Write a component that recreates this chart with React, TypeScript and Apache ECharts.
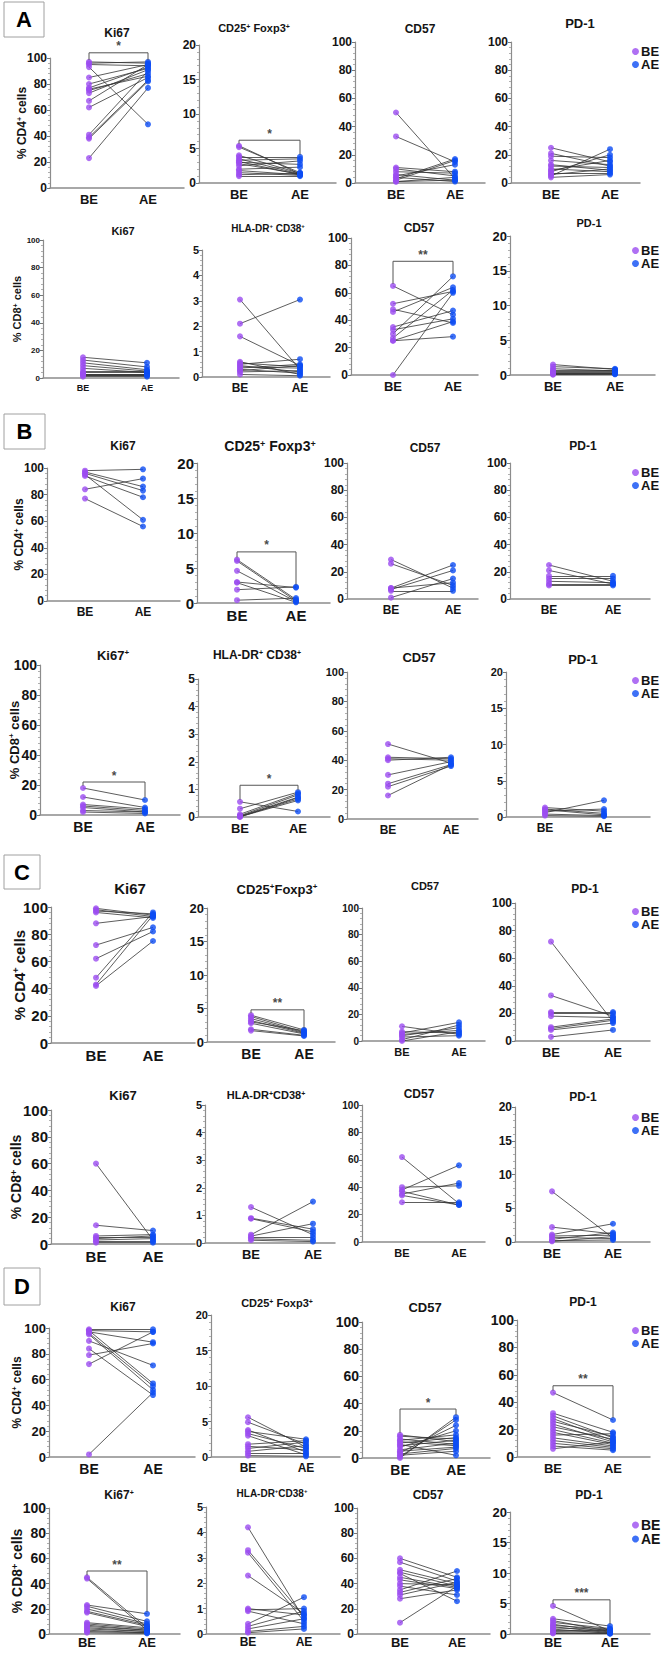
import React, { useEffect, useRef } from "react";
import * as echarts from "echarts";

// Percent of parent population before (BE) and after (AE) exercise; index i is the same subject.
// Panel A
const A_CD4_KI67_BE = [97, 96, 95, 93, 85, 80, 77, 76, 75, 73, 67, 62, 41, 39, 38, 23];
const A_CD4_KI67_AE = [96, 97, 94, 49, 95, 92, 93, 86, 88, 91, 95, 85, 90, 83, 82, 77];
const A_CD4_TREG_BE = [5.4, 5.2, 4.0, 3.8, 3.5, 3.3, 3.1, 3.0, 2.8, 2.5, 2.0, 1.8, 1.5, 1.2, 1.0];
const A_CD4_TREG_AE = [1.3, 1.5, 1.4, 3.8, 1.3, 3.5, 1.2, 2.7, 1.3, 3.2, 2.3, 1.2, 1.1, 1.4, 1.0];
const A_CD4_CD57_BE = [50, 33, 11, 10, 8, 6, 5, 4, 3, 2, 1, 1];
const A_CD4_CD57_AE = [3, 15, 8, 5, 7, 2, 13, 1, 17, 16, 4, 2];
const A_CD4_PD1_BE = [25, 21, 19, 16, 13, 12, 10, 9, 8, 7, 6, 5, 4];
const A_CD4_PD1_AE = [15, 12, 18, 13, 9, 11, 8, 16, 20, 7, 10, 24, 6];
const A_CD8_KI67_BE = [15, 13, 11, 9, 7, 5, 4, 3, 3, 2, 2, 1];
const A_CD8_KI67_AE = [11, 8, 6, 5, 4, 5, 4, 3, 3, 2, 2, 1];
const A_CD8_HLA_BE = [3.05, 2.1, 1.6, 0.6, 0.55, 0.5, 0.45, 0.4, 0.35, 0.3, 0.25, 0.2, 0.1];
const A_CD8_HLA_AE = [0.3, 3.05, 0.45, 0.1, 0.4, 0.7, 0.2, 0.35, 0.5, 0.15, 0.45, 0.25, 0.05];
const A_CD8_CD57_BE = [65, 52, 48, 46, 35, 33, 30, 27, 25, 25, 0];
const A_CD8_CD57_AE = [44, 61, 38, 64, 47, 41, 72, 62, 39, 28, 60];
const A_CD8_PD1_BE = [1.5, 1.2, 0.9, 0.7, 0.5, 0.4, 0.3, 0.2, 0.1, 0.05];
const A_CD8_PD1_AE = [0.8, 0.9, 0.6, 0.7, 0.5, 0.4, 0.3, 0.2, 0.15, 0.1];
// Panel B
const B_CD4_KI67_BE = [98, 97, 96, 95, 94, 84, 77];
const B_CD4_KI67_AE = [99, 86, 83, 61, 78, 92, 56];
const B_CD4_TREG_BE = [6.2, 6.0, 4.6, 3.0, 2.9, 1.9, 0.4];
const B_CD4_TREG_AE = [0.5, 0.3, 0.2, 2.2, 0.1, 2.3, 0.7];
const B_CD4_CD57_BE = [29, 26, 8, 8, 7, 6, 1];
const B_CD4_CD57_AE = [8, 10, 25, 12, 21, 6, 15];
const B_CD4_PD1_BE = [25, 21, 17, 15, 13, 11, 10];
const B_CD4_PD1_AE = [13, 11, 17, 15, 12, 11, 10];
const B_CD8_KI67_BE = [18, 12, 7, 6, 5, 3, 2];
const B_CD8_KI67_AE = [10, 5, 4, 3, 2, 2, 1];
const B_CD8_HLA_BE = [0.55, 0.3, 0.1, 0.05, 0.03, 0.02, 0.01, 0.0];
const B_CD8_HLA_AE = [0.2, 0.9, 0.85, 0.8, 0.72, 0.65, 0.6, 0.7];
const B_CD8_CD57_BE = [51, 42, 41, 40, 30, 24, 22, 16];
const B_CD8_CD57_AE = [38, 41, 40, 42, 39, 37, 36, 37];
const B_CD8_PD1_BE = [1.3, 1.1, 1.0, 0.8, 0.6, 0.4, 0.2];
const B_CD8_PD1_AE = [0.8, 0.5, 0.3, 1.1, 2.3, 0.2, 0.1];
// Panel C
const C_CD4_KI67_BE = [99, 98, 97, 96, 88, 72, 62, 48, 43, 42];
const C_CD4_KI67_AE = [94, 93, 95, 92, 93, 85, 82, 96, 94, 75];
const C_CD4_TREG_BE = [4.0, 3.8, 3.5, 3.2, 3.0, 2.8, 1.9, 1.7];
const C_CD4_TREG_AE = [1.8, 1.5, 1.4, 1.3, 1.7, 1.2, 1.0, 0.9];
const C_CD4_CD57_BE = [11, 7, 6, 5, 4, 3, 1, 0];
const C_CD4_CD57_AE = [5, 6, 14, 8, 10, 4, 12, 7];
const C_CD4_PD1_BE = [72, 33, 21, 20, 18, 10, 9, 8, 3];
const C_CD4_PD1_AE = [14, 18, 21, 20, 17, 16, 15, 13, 8];
const C_CD8_KI67_BE = [60, 14, 6, 5, 4, 3, 2, 1];
const C_CD8_KI67_AE = [3, 10, 7, 5, 6, 4, 2, 1];
const C_CD8_HLA_BE = [1.3, 0.9, 0.88, 0.3, 0.25, 0.2, 0.15, 0.1];
const C_CD8_HLA_AE = [0.3, 0.5, 0.4, 1.5, 0.7, 0.2, 0.1, 0.05];
const C_CD8_CD57_BE = [62, 40, 38, 37, 35, 34, 29];
const C_CD8_CD57_AE = [28, 41, 56, 27, 43, 27, 29];
const C_CD8_PD1_BE = [7.5, 2.2, 1.1, 0.9, 0.7, 0.4, 0.2, 0.1];
const C_CD8_PD1_AE = [0.6, 1.2, 2.7, 1.0, 0.5, 1.4, 0.3, 0.8];
// Panel D
const D_CD4_KI67_BE = [99, 98, 98, 97, 96, 95, 90, 84, 79, 72, 2];
const D_CD4_KI67_AE = [99, 97, 57, 89, 55, 52, 71, 48, 88, 97, 50];
const D_CD4_TREG_BE = [5.6, 4.9, 3.8, 3.6, 3.3, 3.0, 1.8, 1.5, 1.2, 0.8, 0.5, 0.2];
const D_CD4_TREG_AE = [1.4, 1.8, 0.7, 2.5, 1.2, 0.3, 2.3, 1.0, 2.1, 1.6, 0.5, 0.1];
const D_CD4_CD57_BE = [17, 16, 14, 13, 12, 11, 10, 9, 8, 6, 5, 4, 3, 2, 1, 0];
const D_CD4_CD57_AE = [12, 14, 10, 17, 9, 15, 2, 13, 20, 11, 8, 24, 7, 5, 28, 30];
const D_CD4_PD1_BE = [47, 32, 30, 28, 26, 24, 22, 20, 18, 16, 14, 12, 10, 8, 6];
const D_CD4_PD1_AE = [27, 18, 14, 12, 15, 11, 13, 10, 9, 17, 8, 7, 6, 5, 11];
const D_CD8_KI67_BE = [45, 44, 23, 22, 20, 18, 17, 9, 8, 7, 6, 5, 4, 3, 2, 1];
const D_CD8_KI67_AE = [5, 3, 16, 10, 8, 7, 6, 5, 4, 3, 3, 2, 2, 1, 1, 0.5];
const D_CD8_HLA_BE = [4.2, 3.3, 3.2, 2.3, 1.0, 0.95, 0.9, 0.4, 0.3, 0.2, 0.1, 0.05];
const D_CD8_HLA_AE = [0.6, 0.7, 0.5, 0.8, 0.75, 1.0, 0.4, 1.45, 0.9, 0.6, 0.3, 0.2];
const D_CD8_CD57_BE = [60, 57, 51, 49, 48, 45, 43, 40, 38, 35, 33, 31, 28, 9];
const D_CD8_CD57_AE = [45, 42, 40, 38, 26, 37, 36, 39, 31, 50, 44, 41, 35, 38];
const D_CD8_PD1_BE = [4.6, 2.5, 2.2, 1.9, 1.6, 1.4, 1.2, 1.0, 0.8, 0.6, 0.4, 0.2, 0.1];
const D_CD8_PD1_AE = [0.5, 1.3, 0.4, 0.9, 0.3, 0.8, 0.2, 0.7, 0.1, 0.6, 0.3, 0.1, 0.05];

// Group labels on the x axis and the legend
const GROUPS = ["BE", "AE"];

const PURPLE = "#9b4cf0";
const BLUE = "#0c4cf4";
const INK = "#141414";
const FONT = '"Liberation Sans", Arial, Helvetica, sans-serif';

type Plot = {
  title: string;
  be: number[];
  ae: number[];
  yMax: number;
  step: number;
  sig?: number;
  stars?: string;
};

const T_KI67 = "Ki67";
const T_KI67P = "Ki67{s|+}";
const T_CD57 = "CD57";
const T_PD1 = "PD-1";

// [axisX, topY, zeroY, beX, aeX, rightX, titleX, titleY, tickFont, titleFont, groupFont]
type Layout = number[];

type Row = {
  yName: string;
  nameX: number;
  nameFs: number;
  legendTop: number;
  legendFs: number;
  groupMargin: number;
  plots: Plot[];
  layout: Layout[];
};

const ROWS: Row[] = [
  {
    yName: "% CD4{s|+} cells", nameX: 22, nameFs: 12, legendTop: 45, legendFs: 13, groupMargin: 5,
    plots: [
      { title: T_KI67, be: A_CD4_KI67_BE, ae: A_CD4_KI67_AE, yMax: 100, step: 20, sig: 104, stars: "*" },
      { title: "CD25{s|+} Foxp3{s|+}", be: A_CD4_TREG_BE, ae: A_CD4_TREG_AE, yMax: 20, step: 5, sig: 6.2, stars: "*" },
      { title: T_CD57, be: A_CD4_CD57_BE, ae: A_CD4_CD57_AE, yMax: 100, step: 20 },
      { title: T_PD1, be: A_CD4_PD1_BE, ae: A_CD4_PD1_AE, yMax: 100, step: 20 },
    ],
    layout: [
      [50, 58, 188, 89, 148, 184, 117, 33, 12, 12, 13],
      [199, 45, 183, 239, 300, 336, 254, 28, 12, 11, 13],
      [355, 42, 183, 396, 455, 485, 420, 29, 12, 12, 13],
      [511, 42, 183, 551, 610, 640, 580, 23, 12, 13, 13],
    ],
  },
  {
    yName: "% CD8{s|+} cells", nameX: 17, nameFs: 11, legendTop: 244, legendFs: 13, groupMargin: 5,
    plots: [
      { title: T_KI67, be: A_CD8_KI67_BE, ae: A_CD8_KI67_AE, yMax: 100, step: 20 },
      { title: "HLA-DR{s|+} CD38{s|+}", be: A_CD8_HLA_BE, ae: A_CD8_HLA_AE, yMax: 5, step: 1 },
      { title: T_CD57, be: A_CD8_CD57_BE, ae: A_CD8_CD57_AE, yMax: 100, step: 20, sig: 83, stars: "**" },
      { title: T_PD1, be: A_CD8_PD1_BE, ae: A_CD8_PD1_AE, yMax: 20, step: 5 },
    ],
    layout: [
      [43, 240, 378, 83, 147, 179, 123, 231, 8, 11, 9],
      [202, 250, 377, 240, 300, 330, 268, 228, 11, 10, 12],
      [351, 238, 375, 393, 453, 478, 419, 228, 12, 12, 13],
      [510, 236, 375, 553, 615, 655, 589, 223, 13, 11, 13],
    ],
  },
  {
    yName: "% CD4{s|+} cells", nameX: 19, nameFs: 12, legendTop: 466, legendFs: 13, groupMargin: 5,
    plots: [
      { title: T_KI67, be: B_CD4_KI67_BE, ae: B_CD4_KI67_AE, yMax: 100, step: 20 },
      { title: "CD25{s|+} Foxp3{s|+}", be: B_CD4_TREG_BE, ae: B_CD4_TREG_AE, yMax: 20, step: 5, sig: 7.3, stars: "*" },
      { title: T_CD57, be: B_CD4_CD57_BE, ae: B_CD4_CD57_AE, yMax: 100, step: 20 },
      { title: T_PD1, be: B_CD4_PD1_BE, ae: B_CD4_PD1_AE, yMax: 100, step: 20 },
    ],
    layout: [
      [47, 468, 601, 85, 143, 180, 123, 446, 12, 12, 12],
      [197, 463, 603, 237, 296, 330, 270, 446, 15, 14, 15],
      [347, 463, 599, 391, 453, 478, 425, 448, 12, 12, 12],
      [510, 463, 599, 549, 613, 650, 583, 446, 12, 12, 12],
    ],
  },
  {
    yName: "% CD8{s|+} cells", nameX: 14, nameFs: 13, legendTop: 674, legendFs: 13, groupMargin: 5,
    plots: [
      { title: T_KI67P, be: B_CD8_KI67_BE, ae: B_CD8_KI67_AE, yMax: 100, step: 20, sig: 22, stars: "*" },
      { title: "HLA-DR{s|+} CD38{s|+}", be: B_CD8_HLA_BE, ae: B_CD8_HLA_AE, yMax: 5, step: 1, sig: 1.15, stars: "*" },
      { title: T_CD57, be: B_CD8_CD57_BE, ae: B_CD8_CD57_AE, yMax: 100, step: 20 },
      { title: T_PD1, be: B_CD8_PD1_BE, ae: B_CD8_PD1_AE, yMax: 20, step: 5 },
    ],
    layout: [
      [40, 665, 815, 83, 145, 180, 113, 655, 14, 13, 14],
      [198, 679, 817, 240, 298, 330, 257, 655, 12, 12, 13],
      [347, 672, 819, 388, 451, 478, 419, 657, 11, 13, 12],
      [506, 672, 817, 545, 604, 650, 583, 659, 11, 13, 12],
    ],
  },
  {
    yName: "% CD4{s|+} cells", nameX: 19, nameFs: 15, legendTop: 905, legendFs: 13, groupMargin: 5,
    plots: [
      { title: T_KI67, be: C_CD4_KI67_BE, ae: C_CD4_KI67_AE, yMax: 100, step: 20 },
      { title: "CD25{s|+}Foxp3{s|+}", be: C_CD4_TREG_BE, ae: C_CD4_TREG_AE, yMax: 20, step: 5, sig: 4.8, stars: "**" },
      { title: T_CD57, be: C_CD4_CD57_BE, ae: C_CD4_CD57_AE, yMax: 100, step: 20 },
      { title: T_PD1, be: C_CD4_PD1_BE, ae: C_CD4_PD1_AE, yMax: 100, step: 20 },
    ],
    layout: [
      [51, 907, 1043, 96, 153, 195, 130, 888, 15, 15, 15],
      [207, 908, 1042, 251, 304, 335, 277, 889, 13, 13, 14],
      [362, 908, 1041, 402, 459, 485, 425, 886, 10, 11, 11],
      [515, 903, 1041, 551, 613, 650, 585, 889, 12, 12, 13],
    ],
  },
  {
    yName: "% CD8{s|+} cells", nameX: 16, nameFs: 14, legendTop: 1111, legendFs: 13, groupMargin: 5,
    plots: [
      { title: T_KI67, be: C_CD8_KI67_BE, ae: C_CD8_KI67_AE, yMax: 100, step: 20 },
      { title: "HLA-DR{s|+}CD38{s|+}", be: C_CD8_HLA_BE, ae: C_CD8_HLA_AE, yMax: 5, step: 1 },
      { title: T_CD57, be: C_CD8_CD57_BE, ae: C_CD8_CD57_AE, yMax: 100, step: 20 },
      { title: T_PD1, be: C_CD8_PD1_BE, ae: C_CD8_PD1_AE, yMax: 20, step: 5 },
    ],
    layout: [
      [51, 1110, 1244, 96, 153, 195, 123, 1095, 15, 13, 15],
      [205, 1105, 1243, 251, 313, 335, 266, 1095, 11, 11, 13],
      [362, 1105, 1242, 402, 459, 485, 419, 1094, 10, 12, 11],
      [515, 1107, 1242, 552, 613, 650, 583, 1097, 12, 12, 13],
    ],
  },
  {
    yName: "% CD4{s|+} cells", nameX: 17, nameFs: 12, legendTop: 1324, legendFs: 13, groupMargin: 5,
    plots: [
      { title: T_KI67, be: D_CD4_KI67_BE, ae: D_CD4_KI67_AE, yMax: 100, step: 20 },
      { title: "CD25{s|+} Foxp3{s|+}", be: D_CD4_TREG_BE, ae: D_CD4_TREG_AE, yMax: 20, step: 5 },
      { title: T_CD57, be: D_CD4_CD57_BE, ae: D_CD4_CD57_AE, yMax: 100, step: 20, sig: 36, stars: "*" },
      { title: T_PD1, be: D_CD4_PD1_BE, ae: D_CD4_PD1_AE, yMax: 100, step: 20, sig: 52, stars: "**" },
    ],
    layout: [
      [49, 1328, 1457, 89, 153, 195, 123, 1307, 13, 12, 14],
      [211, 1315, 1457, 248, 306, 340, 277, 1303, 11, 11, 12],
      [362, 1322, 1458, 400, 456, 490, 425, 1307, 14, 13, 14],
      [517, 1320, 1457, 553, 613, 650, 583, 1302, 14, 12, 13],
    ],
  },
  {
    yName: "% CD8{s|+} cells", nameX: 17, nameFs: 14, legendTop: 1518, legendFs: 14, groupMargin: 2,
    plots: [
      { title: T_KI67P, be: D_CD8_KI67_BE, ae: D_CD8_KI67_AE, yMax: 100, step: 20, sig: 50, stars: "**" },
      { title: "HLA-DR{s|+}CD38{s|+}", be: D_CD8_HLA_BE, ae: D_CD8_HLA_AE, yMax: 5, step: 1 },
      { title: T_CD57, be: D_CD8_CD57_BE, ae: D_CD8_CD57_AE, yMax: 100, step: 20 },
      { title: T_PD1, be: D_CD8_PD1_BE, ae: D_CD8_PD1_AE, yMax: 20, step: 5, sig: 5.6, stars: "***" },
    ],
    layout: [
      [49, 1508, 1634, 87, 147, 180, 119, 1495, 14, 12, 13],
      [206, 1507, 1634, 248, 304, 340, 272, 1493, 11, 10, 12],
      [357, 1508, 1634, 400, 457, 490, 428, 1495, 12, 12, 13],
      [510, 1512, 1634, 553, 610, 650, 589, 1495, 13, 12, 13],
    ],
  },
];

// Panel letters: [letter, x, y, width, height]
const PANEL_BOXES: [string, number, number, number, number][] = [
  ["A", 4, 2, 40, 35],
  ["B", 4, 414, 41, 35],
  ["C", 4, 855, 36, 34],
  ["D", 4, 1268, 36, 37],
];

function supRich(fs: number) {
  return {
    s: { fontSize: Math.round(fs * 0.62), fontWeight: "bold", fontFamily: FONT, fill: INK, color: INK, verticalAlign: "top" },
  };
}

function buildOption() {
  const grid: any[] = [];
  const xAxis: any[] = [];
  const yAxis: any[] = [];
  const series: any[] = [];
  const legend: any[] = [];
  const graphic: any[] = [];

  ROWS.forEach((row) => {
    row.plots.forEach((p, ci) => {
      const [ax, top, zero, bx, aex, right, tx, ty, fs, tfs, xfs] = row.layout[ci];
      const idx = grid.length;
      const unit = aex - bx;
      const xMin = 1 - (bx - ax) / unit;
      const xMax = 2 + (right - aex) / unit;

      grid.push({ left: ax, top, width: right - ax, height: zero - top, outerBoundsMode: "none" });

      xAxis.push({
        type: "value",
        gridIndex: idx,
        min: xMin,
        max: xMax,
        axisLine: { show: true, onZero: false, lineStyle: { color: "#8c8c8c", width: 1.5 } },
        axisTick: { show: false },
        splitLine: { show: false },
        axisLabel: {
          customValues: [1, 2],
          formatter: (v: number) => (Math.abs(v - 1) < 1e-6 ? GROUPS[0] : GROUPS[1]),
          fontSize: xfs,
          fontWeight: "bold",
          fontFamily: FONT,
          color: INK,
          margin: row.groupMargin,
        },
      });

      const yAx: any = {
        type: "value",
        gridIndex: idx,
        min: 0,
        max: p.yMax,
        interval: p.step,
        axisLine: { show: true, lineStyle: { color: "#8c8c8c", width: 1.2 } },
        axisTick: { show: true, length: 3, lineStyle: { color: "#777", width: 1 } },
        minorTick: { show: true, splitNumber: 5, length: 2, lineStyle: { color: "#9a9a9a", width: 0.8 } },
        splitLine: { show: false },
        axisLabel: { fontSize: fs, fontWeight: "bold", fontFamily: FONT, color: INK, margin: 3 },
      };
      if (ci === 0) {
        yAx.name = row.yName;
        yAx.nameLocation = "middle";
        yAx.nameMoveOverlap = false;
        yAx.nameGap = Math.max(0, ax - row.nameX - row.nameFs / 2);
        yAx.nameTextStyle = {
          fontSize: row.nameFs,
          fontWeight: "bold",
          fontFamily: FONT,
          color: INK,
          rich: supRich(row.nameFs),
        };
      }
      yAxis.push(yAx);

      // paired lines, one per subject
      series.push({
        type: "lines",
        coordinateSystem: "cartesian2d",
        xAxisIndex: idx,
        yAxisIndex: idx,
        silent: true,
        clip: false,
        z: 2,
        lineStyle: { color: "#333", width: 0.8, opacity: 1 },
        data: p.be.map((b, i) => ({ coords: [[1, b], [2, p.ae[i]]] })),
      });
      series.push({
        type: "scatter",
        name: GROUPS[0],
        xAxisIndex: idx,
        yAxisIndex: idx,
        symbol: "circle",
        symbolSize: 6,
        clip: false,
        z: 3,
        itemStyle: { color: PURPLE },
        data: p.be.map((v) => [1, v]),
      });
      series.push({
        type: "scatter",
        name: GROUPS[1],
        xAxisIndex: idx,
        yAxisIndex: idx,
        symbol: "circle",
        symbolSize: 6,
        clip: false,
        z: 3,
        itemStyle: { color: BLUE },
        data: p.ae.map((v) => [2, v]),
      });

      if (p.sig !== undefined) {
        const pad = p.yMax * 0.015;
        const legBe = Math.min(p.sig, Math.max(...p.be) + pad);
        const legAe = Math.min(p.sig, Math.max(...p.ae) + pad);
        series.push({
          type: "lines",
          coordinateSystem: "cartesian2d",
          xAxisIndex: idx,
          yAxisIndex: idx,
          polyline: true,
          silent: true,
          clip: false,
          z: 4,
          lineStyle: { color: "#555", width: 1, opacity: 1 },
          data: [{ coords: [[1, legBe], [1, p.sig], [2, p.sig], [2, legAe]] }],
        });
        series.push({
          type: "scatter",
          name: "significance",
          xAxisIndex: idx,
          yAxisIndex: idx,
          symbolSize: 1,
          clip: false,
          silent: true,
          z: 4,
          itemStyle: { color: "rgba(0,0,0,0)" },
          label: {
            show: true,
            position: "top",
            distance: 0,
            formatter: p.stars,
            fontSize: 12,
            fontWeight: "bold",
            fontFamily: FONT,
            color: INK,
          },
          data: [[1.5, p.sig]],
        });
      }

      graphic.push({
        type: "text",
        x: tx,
        y: ty,
        silent: true,
        style: {
          text: p.title,
          fontSize: tfs,
          fontWeight: "bold",
          fontFamily: FONT,
          fill: INK,
          align: "center",
          verticalAlign: "middle",
          textAlign: "center",
          textVerticalAlign: "middle",
          rich: supRich(tfs),
        },
      });
    });

    legend.push({
      data: GROUPS,
      orient: "vertical",
      left: 632,
      top: row.legendTop,
      padding: 0,
      itemGap: 0,
      itemWidth: 7,
      itemHeight: 7,
      icon: "circle",
      selectedMode: false,
      textStyle: {
        fontSize: row.legendFs,
        fontWeight: "bold",
        fontFamily: FONT,
        color: INK,
        padding: [0, 0, 0, -3],
        lineHeight: 12,
      },
    });
  });

  PANEL_BOXES.forEach(([letter, x, y, w, h]) => {
    graphic.push({
      type: "rect",
      silent: true,
      shape: { x, y, width: w, height: h },
      style: { fill: "#fff", stroke: "#a0a0a0", lineWidth: 1 },
    });
    graphic.push({
      type: "text",
      silent: true,
      x: x + w / 2,
      y: y + h / 2,
      style: {
        text: letter,
        fontSize: 22,
        fontWeight: "bold",
        fontFamily: FONT,
        fill: "#000",
        align: "center",
        verticalAlign: "middle",
        textAlign: "center",
        textVerticalAlign: "middle",
      },
    });
  });

  return {
    animation: false,
    backgroundColor: "#fff",
    textStyle: { fontFamily: FONT },
    grid,
    xAxis,
    yAxis,
    series,
    legend,
    graphic,
  };
}

export default function App() {
  const ref = useRef<HTMLDivElement>(null);

  useEffect(() => {
    if (!ref.current) return;
    const chart = echarts.init(ref.current, undefined, { renderer: "svg" });
    chart.setOption(buildOption() as any);
    return () => {
      chart.dispose();
    };
  }, []);

  return (
    <div
      ref={ref}
      style={{ position: "absolute", left: 0, top: 0, width: 667, height: 1655, background: "#fff" }}
    />
  );
}
